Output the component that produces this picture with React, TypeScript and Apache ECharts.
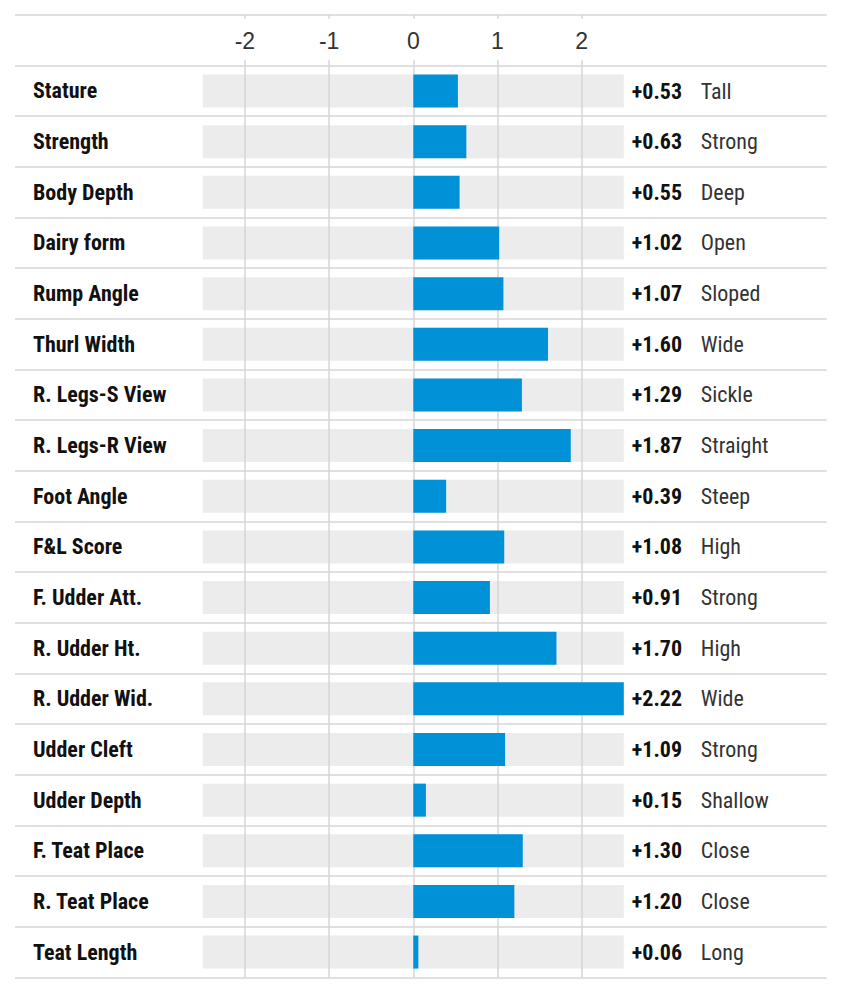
import React, { useEffect, useRef } from "react";
import * as echarts from "echarts";

// ---- data ----
const categories = [
  "Stature",
  "Strength",
  "Body Depth",
  "Dairy form",
  "Rump Angle",
  "Thurl Width",
  "R. Legs-S View",
  "R. Legs-R View",
  "Foot Angle",
  "F&L Score",
  "F. Udder Att.",
  "R. Udder Ht.",
  "R. Udder Wid.",
  "Udder Cleft",
  "Udder Depth",
  "F. Teat Place",
  "R. Teat Place",
  "Teat Length",
];
const values = [
  0.53, 0.63, 0.55, 1.02, 1.07, 1.6, 1.29, 1.87, 0.39, 1.08, 0.91, 1.7, 2.22,
  1.09, 0.15, 1.3, 1.2, 0.06,
];
const descriptors = [
  "Tall",
  "Strong",
  "Deep",
  "Open",
  "Sloped",
  "Wide",
  "Sickle",
  "Straight",
  "Steep",
  "High",
  "Strong",
  "High",
  "Wide",
  "Strong",
  "Shallow",
  "Close",
  "Close",
  "Long",
];
const tickValues = [-2, -1, 0, 1, 2];
const TRACK_MIN = -2.5;
const TRACK_MAX = 2.5;

// values beyond the last labelled tick fill the track (as in the reference)
const barLengths = values.map((v) => (v > 2 ? TRACK_MAX : v));

const NARROW = "'Roboto Condensed', Roboto, sans-serif";
const SANS = "'Liberation Sans', Arial, Helvetica, sans-serif";
const LINE = "#d6d6d6";
const TRACK = "#ececec";
const BLUE = "#0091d7";

const fmt = (v: number) => (v >= 0 ? "+" : "") + v.toFixed(2);

export default function App() {
  const ref = useRef<HTMLDivElement>(null);
  useEffect(() => {
    if (!ref.current) return;
    const chart = echarts.init(ref.current, null, { renderer: "svg" });
    const option: any = {
      animation: false,
      backgroundColor: "#ffffff",
      grid: [
        { left: 15, right: 22.3, top: 14.7, bottom: 22.6 },
        { left: 202.8, right: 225.2, top: 65.7, bottom: 22.6 },
      ],
      xAxis: [
        { gridIndex: 0, type: "value", min: 0, max: 1, show: false },
        {
          gridIndex: 1,
          type: "value",
          min: TRACK_MIN,
          max: TRACK_MAX,
          position: "top",
          axisLine: { show: false },
          axisTick: {
            show: true,
            customValues: tickValues,
            length: 6,
            lineStyle: { color: LINE, width: 1.5 },
          },
          axisLabel: {
            customValues: tickValues,
            fontSize: 23,
            color: "#333",
            fontFamily: SANS,
            margin: 13,
            formatter: (v: number) => String(v),
          },
          splitLine: {
            show: true,
            lineStyle: { color: LINE, width: 1.5 },
          },
        },
        {
          gridIndex: 1,
          type: "value",
          min: TRACK_MIN,
          max: TRACK_MAX,
          position: "top",
          offset: 51,
          axisLine: { show: false },
          axisTick: {
            show: true,
            inside: true,
            customValues: tickValues,
            length: 4,
            lineStyle: { color: LINE, width: 1.5 },
          },
          axisLabel: { show: false },
          splitLine: { show: false },
        },
      ],
      yAxis: [
        {
          gridIndex: 0,
          type: "category",
          data: ["", ...categories],
          inverse: true,
          axisLine: { show: false },
          axisTick: { show: false },
          axisLabel: {
            inside: true,
            margin: 18,
            fontSize: 22,
            fontWeight: "bold",
            color: "#111",
            fontFamily: NARROW,
            interval: 0,
          },
          splitLine: {
            show: true,
            interval: 0,
            lineStyle: { color: LINE, width: 1.5 },
          },
        },
        {
          gridIndex: 1,
          type: "category",
          data: categories,
          inverse: true,
          axisLine: { show: false },
          axisTick: { show: false },
          axisLabel: { show: false },
        },
        {
          gridIndex: 1,
          type: "category",
          data: categories,
          inverse: true,
          position: "right",
          axisLine: { show: false },
          axisTick: { show: false },
          axisLabel: {
            interval: 0,
            margin: 8,
            formatter: (_v: string, i: number) =>
              `{v|${fmt(values[i])}}{d|${descriptors[i]}}`,
            rich: {
              v: {
                fontFamily: NARROW,
                fontWeight: "bold",
                fontSize: 22,
                color: "#111",
                width: 69,
              },
              d: { fontFamily: NARROW, fontSize: 22, color: "#333" },
            },
          },
        },
      ],
      series: [
        {
          type: "bar",
          xAxisIndex: 1,
          yAxisIndex: 1,
          data: categories.map(() => TRACK_MIN),
          barWidth: 33,
          barGap: "-100%",
          itemStyle: { color: TRACK },
          z: -1,
          silent: true,
        },
        {
          type: "bar",
          xAxisIndex: 1,
          yAxisIndex: 1,
          data: categories.map(() => TRACK_MAX),
          barWidth: 33,
          barGap: "-100%",
          itemStyle: { color: TRACK },
          z: -1,
          silent: true,
        },
        {
          type: "bar",
          xAxisIndex: 1,
          yAxisIndex: 1,
          data: barLengths,
          barWidth: 33,
          barGap: "-100%",
          itemStyle: { color: BLUE },
          z: 2,
        },
      ],
    };
    chart.setOption(option);
    return () => chart.dispose();
  }, []);
  return (
    <div
      ref={ref}
      style={{ position: "absolute", left: 0, top: 0, width: 849, height: 1000 }}
    />
  );
}
